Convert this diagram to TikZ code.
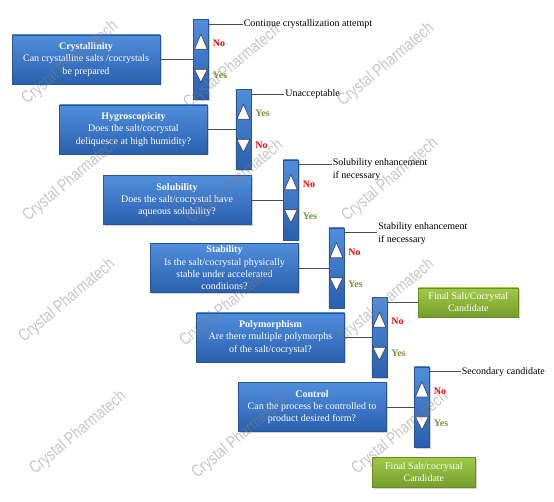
\documentclass[tikz,border=0pt]{standalone}
\usepackage{fontspec}
\setmainfont{Liberation Serif}
\newfontfamily\wmfont[FakeStretch=0.8]{Liberation Sans}
\usepackage{tikz}
\usetikzlibrary{positioning,calc,shadows}
\definecolor{qtop}{RGB}{80,142,220}
\definecolor{qbot}{RGB}{42,96,174}
\definecolor{qframe}{RGB}{38,84,150}
\definecolor{gtop}{RGB}{162,202,72}
\definecolor{gbot}{RGB}{116,158,44}
\definecolor{gframe}{RGB}{104,142,40}
\definecolor{nored}{RGB}{255,0,0}
\definecolor{yesgreen}{RGB}{119,147,60}

% white up/down arrow heads inside a decision bar
\newcommand{\updown}[1]{%
  \draw[tri] ($(#1.north)+(0,15)$) -- ($(#1.north)+(6.5,30)$) -- ($(#1.north)+(-6.5,30)$) -- cycle;
  \draw[tri] ($(#1.north)+(-6.5,50)$) -- ($(#1.north)+(6.5,50)$) -- ($(#1.north)+(0,63)$) -- cycle;}

\begin{document}
\begin{tikzpicture}[
  x=1pt, y=-1pt,
  font=\fontsize{10}{12.3}\selectfont,
  q/.style={rectangle, draw=qframe, top color=qtop, bottom color=qbot, minimum width=148pt, minimum height=49pt, text=white, align=center, inner sep=1pt,
    drop shadow={shadow xshift=1.5pt, shadow yshift=-1.5pt, opacity=0.35}},
  bar/.style={rectangle, draw=qframe, top color=qtop, bottom color=qbot, minimum width=15pt, minimum height=80pt, inner sep=0pt,
    drop shadow={shadow xshift=1.5pt, shadow yshift=-1.5pt, opacity=0.35}},
  fin/.style={rectangle, draw=gframe, top color=gtop, bottom color=gbot, minimum width=100pt, minimum height=29pt, text=white, align=center, inner sep=1pt,
    drop shadow={shadow xshift=1.5pt, shadow yshift=-1.5pt, opacity=0.35}},
  tri/.style={draw=black!75, fill=white, line width=0.6pt},
  lead/.style={draw=black!70, line width=0.6pt},
  no/.style={font=\fontsize{10}{12}\selectfont\bfseries, text=nored, anchor=west, inner sep=1pt},
  yes/.style={font=\fontsize{10}{12}\selectfont\bfseries, text=yesgreen, anchor=west, inner sep=1pt},
  note/.style={anchor=west, inner sep=1pt, align=left},
  wm/.style={font=\wmfont\fontsize{17}{17}\selectfont, text=gray, opacity=0.45, rotate=40}
]
\useasboundingbox (0,0) rectangle (554,502);

% Question boxes, stepping down to the right
\node[q] (cryst) at (86,59.5) {\textbf{Crystallinity}\\Can crystalline salts /cocrystals\\be prepared};
\node[q] (hygro) at (133.5,129.5) {\textbf{Hygroscopicity}\\Does the salt/cocrystal\\deliquesce at high humidity?};
\node[q] (solub) at (177,200) {\textbf{Solubility}\\Does the salt/cocrystal have\\aqueous solubility?};
\node[q] (stab) at (224.5,268) {\textbf{Stability}\\Is the salt/cocrystal physically\\stable under accelerated\\conditions?};
\node[q] (poly) at (270.5,337.5) {\textbf{Polymorphism}\\Are there multiple polymorphs\\of the salt/cocrystal?};
\node[q] (ctrl) at (312,407) {\textbf{Control}\\Can the process be controlled to\\product desired form?};

% Decision bars
\node[bar, right=33pt of cryst] (b1) {};
\node[bar, right=28pt of hygro] (b2) {};
\node[bar, right=32pt of solub] (b3) {};
\node[bar, right=30pt of stab] (b4) {};
\node[bar, right=27pt of poly] (b5) {};
\node[bar, right=28pt of ctrl] (b6) {};

\draw[lead] (cryst.east) -- (b1.west);
\draw[lead] (hygro.east) -- (b2.west);
\draw[lead] (solub.east) -- (b3.west);
\draw[lead] (stab.east) -- (b4.west);
\draw[lead] (poly.east) -- (b5.west);
\draw[lead] (ctrl.east) -- (b6.west);

\updown{b1}
\updown{b2}
\updown{b3}
\updown{b4}
\updown{b5}
\updown{b6}

% Answers beside the arrow heads
\node[no] (no1) at ($(b1.north east)+(3,24)$) {No};
\node[yes] (yes1) at ($(b1.north east)+(3,56)$) {Yes};
\node[yes] (yes2) at ($(b2.north east)+(3,24)$) {Yes};
\node[no] (no2) at ($(b2.north east)+(3,56)$) {No};
\node[no] (no3) at ($(b3.north east)+(3,24)$) {No};
\node[yes] (yes3) at ($(b3.north east)+(3,56)$) {Yes};
\node[no] (no4) at ($(b4.north east)+(3,24)$) {No};
\node[yes] (yes4) at ($(b4.north east)+(3,56)$) {Yes};
\node[no] (no5) at ($(b5.north east)+(3,24)$) {No};
\node[yes] (yes5) at ($(b5.north east)+(3,56)$) {Yes};
\node[no] (no6) at ($(b6.north east)+(3,24)$) {No};
\node[yes] (yes6) at ($(b6.north east)+(3,56)$) {Yes};

% Outcomes off the top of each bar
\coordinate (t1) at ($(b1.north east)+(0,5)$);
\coordinate (t2) at ($(b2.north east)+(0,5)$);
\coordinate (t3) at ($(b3.north east)+(0,5)$);
\coordinate (t4) at ($(b4.north east)+(0,5)$);
\coordinate (t5) at ($(b5.north east)+(0,5)$);
\coordinate (t6) at ($(b6.north east)+(0,5)$);

\node[note, right=34pt of t1] (n1) {Continue crystallization attempt};
\node[note, right=33pt of t2] (n2) {Unacceptable};
\node[note, anchor=north west] (n3) at ($(t3)+(33,-7)$) {Solubility enhancement\\if necessary};
\node[note, anchor=north west] (n4) at ($(t4)+(33,-11)$) {Stability enhancement\\if necessary};
\node[fin, right=31pt of t5] (f1) {Final Salt/Cocrystal\\Candidate};
\node[note, right=31pt of t6] (n6) {Secondary candidate};
\node[fin, below=10pt of b6, minimum width=103pt, minimum height=30pt, xshift=2pt] (f2) {Final Salt/cocrystal\\Candidate};

\draw[lead] (t1) -- (n1.west);
\draw[lead] (t2) -- (n2.west);
\draw[lead] (t3) -- (t3 -| n3.west);
\draw[lead] (t4) -- (t4 -| n4.west);
\draw[lead] (t5) -- (f1.west);
\draw[lead] (t6) -- (n6.west);

% Watermark
\node[wm] (wm1) at (70,63) {Crystal Pharmatech};
\node[wm] (wm2) at (232,67) {Crystal Pharmatech};
\node[wm] (wm3) at (386,65) {Crystal Pharmatech};
\node[wm] (wm4) at (71,180) {Crystal Pharmatech};
\node[wm] (wm5) at (235,182) {Crystal Pharmatech};
\node[wm] (wm6) at (390,180) {Crystal Pharmatech};
\node[wm] (wm7) at (67,301) {Crystal Pharmatech};
\node[wm] (wm8) at (228,305) {Crystal Pharmatech};
\node[wm] (wm9) at (386,301) {Crystal Pharmatech};
\node[wm] (wm10) at (78,433) {Crystal Pharmatech};
\node[wm] (wm11) at (240,437) {Crystal Pharmatech};
\node[wm] (wm12) at (400,433) {Crystal Pharmatech};
\end{tikzpicture}
\end{document}
